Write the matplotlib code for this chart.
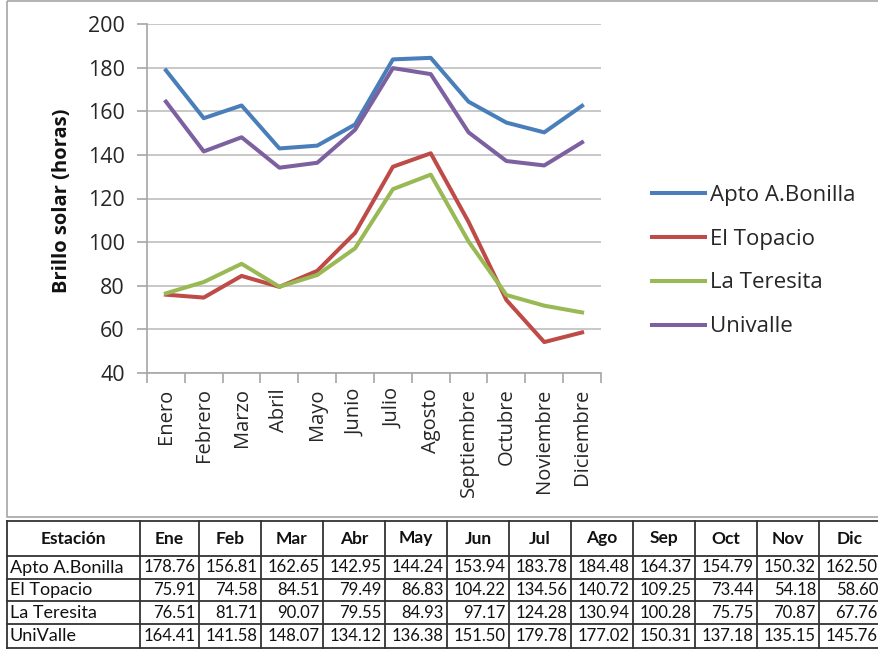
import matplotlib
matplotlib.use("Agg")
import matplotlib.pyplot as plt
from matplotlib.lines import Line2D
from matplotlib.patches import Rectangle

plt.rcParams['font.family'] = ['Open Sans', 'DejaVu Sans']

months = ["Enero", "Febrero", "Marzo", "Abril", "Mayo", "Junio", "Julio",
          "Agosto", "Septiembre", "Octubre", "Noviembre", "Diciembre"]
month_abbr = ["Ene", "Feb", "Mar", "Abr", "May", "Jun", "Jul",
              "Ago", "Sep", "Oct", "Nov", "Dic"]

apto_bonilla = [178.76, 156.81, 162.65, 142.95, 144.24, 153.94, 183.78, 184.48, 164.37, 154.79, 150.32, 162.50]
el_topacio = [75.91, 74.58, 84.51, 79.49, 86.83, 104.22, 134.56, 140.72, 109.25, 73.44, 54.18, 58.60]
la_teresita = [76.51, 81.71, 90.07, 79.55, 84.93, 97.17, 124.28, 130.94, 100.28, 75.75, 70.87, 67.76]
univalle = [164.41, 141.58, 148.07, 134.12, 136.38, 151.50, 179.78, 177.02, 150.31, 137.18, 135.15, 145.76]

legend_names = ["Apto A.Bonilla", "El Topacio", "La Teresita", "Univalle"]
table_names = ["Apto A.Bonilla", "El Topacio", "La Teresita", "UniValle"]
series = [apto_bonilla, el_topacio, la_teresita, univalle]
colors = ["#4A7EBB", "#BE4B48", "#98B954", "#7D60A0"]

W, H = 879, 656
fig = plt.figure(figsize=(W / 100, H / 100), dpi=100)

# background layer in pixel units: chart frame and data table
bg = fig.add_axes([0, 0, 1, 1])
bg.set_xlim(0, W)
bg.set_ylim(H, 0)
bg.axis("off")
bg.add_patch(Rectangle((7, 1), 885, 516, fill=False, edgecolor="#A6A6A6", lw=1.2))

# line chart
x0, x1, ytop, ybot = 147, 601, 24, 373
ax = fig.add_axes([x0 / W, 1 - ybot / H, (x1 - x0) / W, (ybot - ytop) / H])
xs = list(range(len(months)))
for vals, name, c in zip(series, legend_names, colors):
    ax.plot(xs, vals, color=c, lw=2.9, label=name)
ax.set_xlim(-0.5, len(months) - 0.5)
ax.set_ylim(40, 200)
ax.set_yticks(range(40, 201, 20))
ax.grid(axis="y", color="#BFBFBF", lw=1.2)
ax.set_axisbelow(True)
for s in ["top", "right"]:
    ax.spines[s].set_visible(False)
for s in ["left", "bottom"]:
    ax.spines[s].set_color("#A6A6A6")
    ax.spines[s].set_linewidth(1.2)
ax.set_xticks(xs)
ax.set_xticklabels(months, rotation=90, fontsize=14.5, color="#262626")
ax.set_xticks([i - 0.5 for i in range(len(months) + 1)], minor=True)
ax.tick_params(axis="x", which="major", length=0, pad=11)
ax.tick_params(axis="x", which="minor", length=7, color="#A6A6A6", width=1.2)
ax.tick_params(axis="y", length=7, color="#A6A6A6", width=1.2, labelsize=15.5,
               labelcolor="#262626", pad=9)
ax.set_ylabel("Brillo solar (horas)", fontsize=14.5, fontweight="bold", color="#111111")
ax.yaxis.set_label_coords(-0.165, (ybot - 201) / (ybot - ytop))

handles = [Line2D([], [], color=c, lw=2.9) for c in colors]
fig.legend(handles, legend_names, loc="center left",
           bbox_to_anchor=(632 / W, 1 - 261 / H),
           frameon=False, fontsize=16, handlelength=2.4, handletextpad=0.2,
           labelspacing=1.03, labelcolor="#262626")

# data table
col_edges = [7, 140, 199, 261, 323, 385, 447, 509, 571, 633, 695, 757, 819, 881]
row_edges = [521, 556, 579, 601, 624, 648]
line_kw = dict(color="#333333", lw=1.3)
for yy in row_edges:
    bg.plot([col_edges[0], col_edges[-1]], [yy, yy], **line_kw)
for xx in col_edges:
    bg.plot([xx, xx], [row_edges[0], row_edges[-1]], **line_kw)

table_font = ['Lato', 'DejaVu Sans']
header = ["Estación"] + month_abbr
hy = (row_edges[0] + row_edges[1]) / 2
for j, txt in enumerate(header):
    cx = (col_edges[j] + col_edges[j + 1]) / 2
    bg.text(cx, hy, txt, ha="center", va="center", fontsize=12.5, fontweight="bold",
            color="#111111", family=table_font)
for i, (name, vals) in enumerate(zip(table_names, series)):
    cy = (row_edges[i + 1] + row_edges[i + 2]) / 2
    bg.text(col_edges[0] + 3, cy, name, ha="left", va="center", fontsize=13,
            color="#111111", family=table_font)
    for j, v in enumerate(vals):
        bg.text(col_edges[j + 2] - 3, cy, f"{v:.2f}", ha="right", va="center",
                fontsize=12, color="#111111", family=table_font)

fig.savefig("out.png", dpi=100)
